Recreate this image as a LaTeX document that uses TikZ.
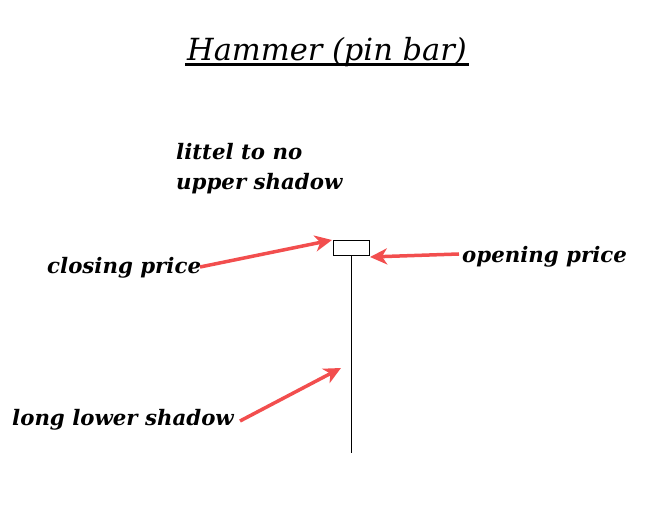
\documentclass[tikz,border=0pt]{standalone}
\usepackage{fontspec}
\setmainfont{DejaVu Serif}
\usetikzlibrary{arrows.meta}
\definecolor{pinred}{RGB}{242,78,78}
\tikzset{
  lbl/.style={font=\bfseries\itshape\fontsize{21.3}{26}\selectfont,inner sep=0pt,anchor=base west},
  pointer/.style={pinred,line width=3.5pt,-{Stealth[length=17pt,width=16pt,inset=5pt]}}
}
\begin{document}
\begin{tikzpicture}[x=1pt,y=-1pt]
\path[use as bounding box] (0,0) rectangle (664,526);
% title
\node[inner sep=0pt,anchor=base,font=\itshape\fontsize{30.5}{36}\selectfont] (title) at (327,61) {Hammer (pin bar)};
\draw[line width=2.2pt] (185,64.5)--(469,64.5);
% candle
\draw[line width=1pt] (333,241) rectangle (369,256);
\draw[line width=1pt] (351,256)--(351,453);
\coordinate (body-w) at (332,240);
\coordinate (body-e) at (370,257);
\coordinate (wick) at (341,368);
% labels
\node[lbl] (upper) at (176,160) {littel to no};
\node[lbl] (upper2) at (176,190) {upper shadow};
\node[lbl] (closing) at (47,274) {closing price};
\node[lbl] (opening) at (462,263) {opening price};
\node[lbl] (lower) at (12,425) {long lower shadow};
% arrows
\draw[pointer] (200,267) -- (body-w);
\draw[pointer] (459,254) -- (body-e);
\draw[pointer] (240,421) -- (wick);
\end{tikzpicture}
\end{document}
